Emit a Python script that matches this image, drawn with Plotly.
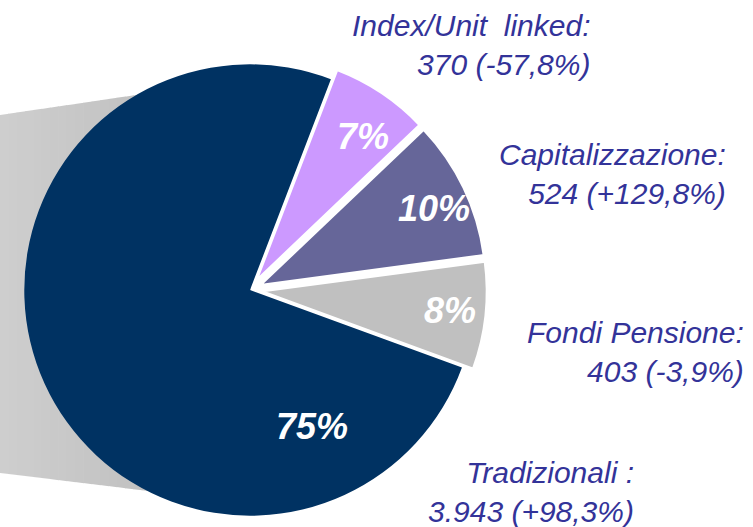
import plotly.graph_objects as go

# ---- data ----
categories = ["Index/Unit linked", "Capitalizzazione", "Fondi Pensione", "Tradizionali"]
values = [370, 524, 403, 3943]
changes = ["-57,8%", "+129,8%", "-3,9%", "+98,3%"]
value_labels = ["370", "524", "403", "3.943"]
label_titles = ["Index/Unit\u00a0\u00a0linked:", "Capitalizzazione:", "Fondi Pensione:", "Tradizionali :"]
colors = ["#CC99FF", "#666699", "#C0C0C0", "#003262"]
pulls = [0.05, 0.05, 0.05, 0.0]

W, H = 753, 527
FONT = "Arial, 'Liberation Sans', sans-serif"
TXT = "#333399"

def px(x):
    return x / W

def py(y):
    return 1 - y / H

fig = go.Figure()

# pie centred at about (250, 290) on the page
fig.add_trace(go.Pie(
    labels=categories,
    values=values,
    sort=False,
    direction="clockwise",
    rotation=21,
    pull=pulls,
    marker=dict(colors=colors, line=dict(color="white", width=[2.5, 2.5, 2.5, 0])),
    textinfo="none",
    hoverinfo="label+value+percent",
    showlegend=False,
    domain=dict(x=[0.0, 0.664], y=[0.0, 0.8994]),
))

# ---- gray shadow band behind the pie (decoration) ----
shapes = []
n = 30
x0, x1 = 0.0, 250.0
def top_y(x):
    return 115 - 0.147 * x
def bot_y(x):
    return 473 + 0.121 * x
c0, c1 = 206, 184
for i in range(n):
    xa = x0 + (x1 - x0) * i / n
    xb = x0 + (x1 - x0) * (i + 1) / n + 0.6
    g = int(round(c0 + (c1 - c0) * i / (n - 1)))
    path = (f"M {px(xa)},{py(top_y(xa))} L {px(xb)},{py(top_y(xb))} "
            f"L {px(xb)},{py(bot_y(xb))} L {px(xa)},{py(bot_y(xa))} Z")
    shapes.append(dict(type="path", path=path, xref="paper", yref="paper",
                       fillcolor=f"rgb({g},{g},{g})", line=dict(width=0), layer="below"))

# ---- annotations ----
annotations = []
total = sum(values)
pct_pos = [(363, 136), (434, 208), (450, 310), (312, 426)]
for v, (x, y) in zip(values, pct_pos):
    annotations.append(dict(
        text=f"<b><i>{round(v / total * 100)}%</i></b>",
        x=px(x), y=py(y), xref="paper", yref="paper",
        xanchor="center", yanchor="middle", showarrow=False,
        font=dict(family=FONT, size=36, color="white"),
    ))

lab_pos = [(592, 45), (728, 174), (746, 352), (636, 492)]
for t, vl, ch, (x, y) in zip(label_titles, value_labels, changes, lab_pos):
    annotations.append(dict(
        text=f"<i>{t}<br>{vl} ({ch})</i>",
        x=px(x), y=py(y), xref="paper", yref="paper",
        xanchor="right", yanchor="middle", align="right", showarrow=False,
        font=dict(family=FONT, size=30, color=TXT),
    ))

fig.update_layout(
    width=W, height=H,
    margin=dict(l=0, r=0, t=0, b=0),
    paper_bgcolor="white", plot_bgcolor="white",
    shapes=shapes,
    annotations=annotations,
    showlegend=False,
)

fig.write_html("out.html", config={"displayModeBar": False},
               post_script="document.body.style.margin='0px';")
